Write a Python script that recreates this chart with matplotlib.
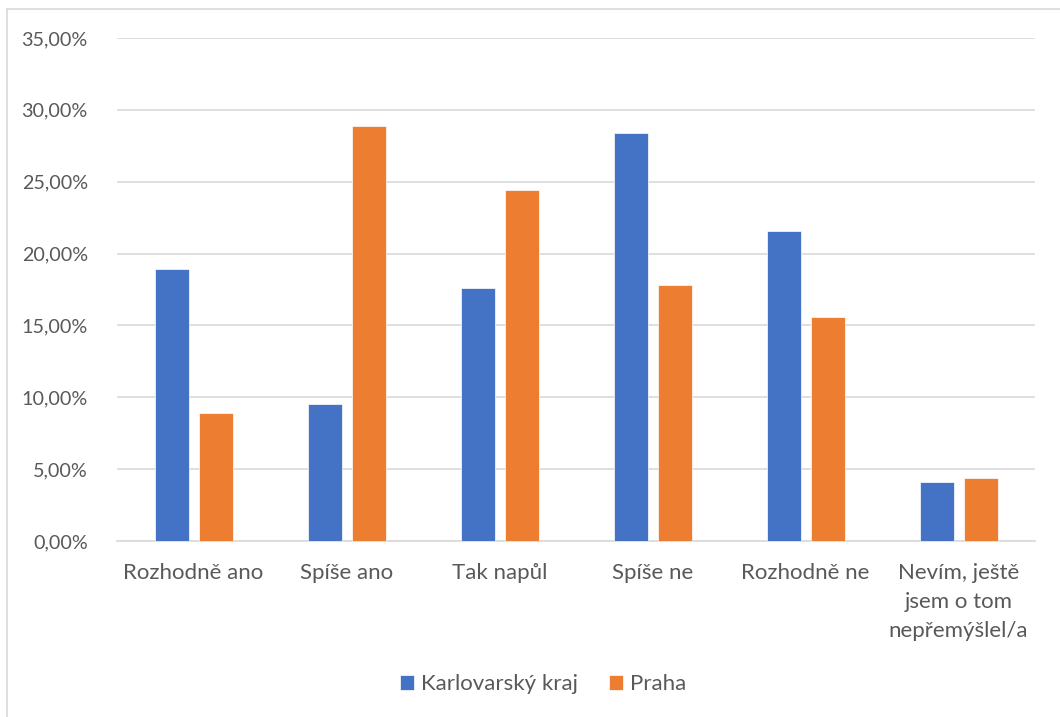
import matplotlib
matplotlib.use("Agg")
import matplotlib.pyplot as plt
import numpy as np
from matplotlib.lines import Line2D

categories = ["Rozhodně ano", "Spíše ano", "Tak napůl", "Spíše ne", "Rozhodně ne",
              "Nevím, ještě\njsem o tom\nnepřemýšlel/a"]
karlovarsky = [18.9, 9.5, 17.6, 28.4, 21.6, 4.1]
praha = [8.9, 28.9, 24.4, 17.8, 15.6, 4.4]
series_names = ["Karlovarský kraj", "Praha"]
yticks = [0, 5, 10, 15, 20, 25, 30, 35]

plt.rcParams['font.family'] = ['Lato', 'DejaVu Sans']
TXT = "#595959"
GRID = "#D9D9D9"

W, H = 1060, 717
fig = plt.figure(figsize=(W/100, H/100), dpi=100)
ax = fig.add_axes([117/W, (H-541)/H, (1035-117)/W, (541-38)/H])

x = np.arange(len(categories))
bw = 34/153
off = (34 + 10) / 2 / 153
ax.bar(x - off, karlovarsky, bw, color="#4472C4", edgecolor="white", linewidth=0.5,
       label=series_names[0], zorder=3)
ax.bar(x + off, praha, bw, color="#ED7D31", edgecolor="white", linewidth=0.5,
       label=series_names[1], zorder=3)

ax.set_xlim(-0.5, len(categories) - 0.5)
ax.set_ylim(0, 35)
ax.set_yticks(yticks)
ax.set_yticklabels([f"{v:.2f}".replace(".", ",") + "%" for v in yticks])
ax.set_xticks(x)
ax.set_xticklabels(categories, linespacing=1.55)
ax.tick_params(axis="both", length=0, colors=TXT)
ax.tick_params(axis="y", pad=21, labelsize=14.2)
ax.tick_params(axis="x", pad=16, labelsize=16)
for lab in ax.get_xticklabels():
    lab.set_verticalalignment("top")

ax.grid(axis="y", color=GRID, linewidth=1.2, zorder=0)
for s in ["top", "right", "left"]:
    ax.spines[s].set_visible(False)
ax.spines["bottom"].set_color(GRID)
ax.spines["bottom"].set_linewidth(1.2)

leg = fig.legend(loc="center", bbox_to_anchor=(543/W, (H-684)/H), ncol=2, frameon=False,
                 fontsize=16, handlelength=0.64, handleheight=0.64, handletextpad=0.3,
                 columnspacing=1.4)
for t in leg.get_texts():
    t.set_color(TXT)

# outer chart border (partially cut off on the right and bottom)
fig.add_artist(Line2D([7/W, 7/W], [0, (H-9)/H], color=GRID, linewidth=1.2,
                      transform=fig.transFigure))
fig.add_artist(Line2D([7/W, 1], [(H-9)/H, (H-9)/H], color=GRID, linewidth=1.2,
                      transform=fig.transFigure))

fig.savefig("out.png", dpi=100)
